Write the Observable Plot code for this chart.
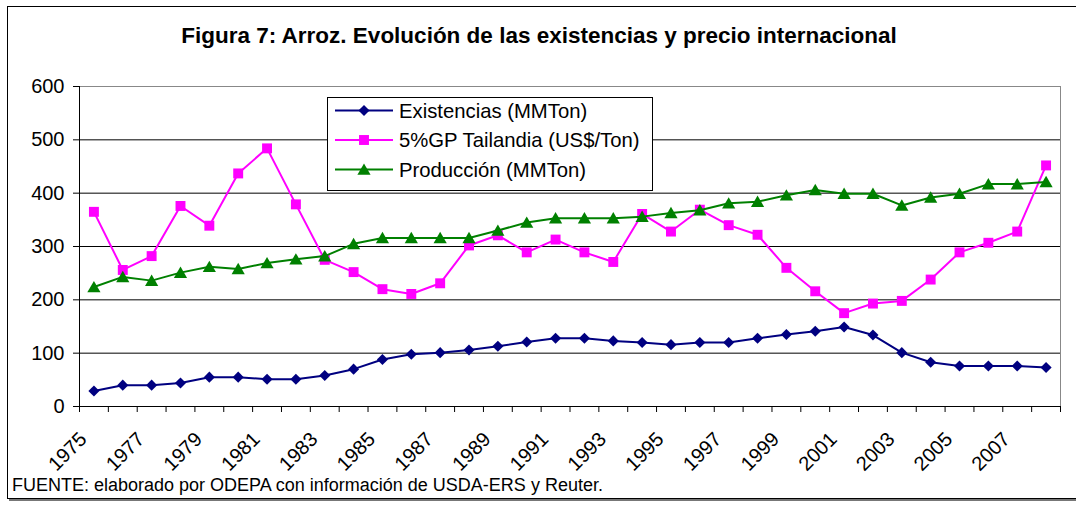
<!DOCTYPE html>
<html>
<head>
<meta charset="utf-8">
<script src="https://cdn.jsdelivr.net/npm/d3@7"></script>
<script src="https://cdn.jsdelivr.net/npm/@observablehq/plot@0.6"></script>
<style>
  html, body { margin: 0; padding: 0; background: #fff; }
  #wrap { position: relative; width: 1076px; height: 505px; overflow: hidden; font-family: Arial, "Liberation Sans", sans-serif; }
  #frame { position: absolute; left: 7px; top: 6px; width: 1080px; height: 493px; border: 1px solid #000; box-shadow: 2px 2px 0 #777; box-sizing: border-box; }
  #title { position: absolute; left: 0; top: 25px; width: 1078px; text-align: center; font-weight: bold; font-size: 22.5px; line-height: 22px; color: #000; }
  #caption { position: absolute; left: 12px; top: 477px; font-size: 18px; line-height: 17px; color: #000; white-space: nowrap; }
  #chart { position: absolute; left: 0; top: 0; }
  #legend { position: absolute; left: 327px; top: 97px; }
</style>
</head>
<body>
<div id="wrap">
  <div id="frame"></div>
  <div id="title"></div>
  <div id="chart"></div>
  <div id="legend"></div>
  <div id="caption"></div>
</div>
<script>
const titleText = "Figura 7: Arroz. Evolución de las existencias y precio internacional";
const captionText = "FUENTE: elaborado por ODEPA con información de USDA-ERS y Reuter.";

const years = [1975,1976,1977,1978,1979,1980,1981,1982,1983,1984,1985,1986,1987,1988,1989,1990,1991,1992,1993,1994,1995,1996,1997,1998,1999,2000,2001,2002,2003,2004,2005,2006,2007,2008];
const existencias = [29,40,40,44,55,55,51,51,58,70,88,98,101,106,113,121,128,128,123,120,116,120,120,128,135,141,149,134,101,83,76,76,76,73];
const precio = [365,256,282,376,339,437,484,379,275,252,220,211,231,302,321,289,313,289,271,361,328,369,340,322,260,216,175,193,198,238,289,307,328,452];
const produccion = [224,243,236,251,262,258,269,276,282,305,316,316,316,316,330,345,353,353,353,356,363,368,381,384,396,406,399,399,377,392,399,417,417,421];
const xTickLabels = [1975,1977,1979,1981,1983,1985,1987,1989,1991,1993,1995,1997,1999,2001,2003,2005,2007];
const yTicks = [0,100,200,300,400,500,600];
const seriesNames = ["Existencias (MMTon)", "5%GP Tailandia (US$/Ton)", "Producción (MMTon)"];
const seriesColors = ["#000080", "#FF00FF", "#008000"];
const seriesSymbols = ["diamond2", "square", "triangle"];
const seriesR = [5, 5.6, 4.9];

document.getElementById("title").textContent = titleText;
document.getElementById("caption").textContent = captionText;

const seriesValues = [existencias, precio, produccion];
const data = seriesValues.map((vals, i) => years.map((yr, j) => ({year: yr, value: vals[j], s: i})));

const boundaries = years.map(y => y - 0.5).concat([years[years.length - 1] + 0.5]);
const gridVals = yTicks.slice(1, -1);
const font = "Arial, 'Liberation Sans', sans-serif";

const marks = [
  Plot.ruleY(gridVals, {stroke: "#000", strokeWidth: 1}),
  Plot.ruleY([yTicks[yTicks.length - 1]], {stroke: "#888", strokeWidth: 1}),
  Plot.ruleX([boundaries[boundaries.length - 1]], {stroke: "#888", strokeWidth: 1}),
  Plot.axisY({ticks: yTicks, tickSize: 6, tickPadding: 9, fontSize: 20, label: null, tickFormat: d => String(d)}),
  Plot.axisX({ticks: boundaries, tickSize: 6, tickFormat: () => "", label: null}),
  Plot.ruleX([boundaries[0]], {stroke: "#000", strokeWidth: 1}),
  Plot.ruleY([yTicks[0]], {stroke: "#000", strokeWidth: 1}),
];
data.forEach((d, i) => {
  marks.push(Plot.line(d, {x: "year", y: "value", stroke: seriesColors[i], strokeWidth: 2}));
  marks.push(Plot.dot(d, {x: "year", y: "value", symbol: () => seriesSymbols[i], r: seriesR[i], fill: seriesColors[i], stroke: "none", dy: i === 2 ? 1.5 : 0}));
});
marks.push(Plot.text(xTickLabels, {x: d => d, frameAnchor: "bottom", rotate: -45, textAnchor: "end", text: d => String(d), dx: -6, dy: 34, fontSize: 20, fill: "#000"}));

const chart = Plot.plot({
  width: 1076,
  height: 505,
  marginLeft: 79,
  marginRight: 16,
  marginTop: 86,
  marginBottom: 99,
  x: {domain: [boundaries[0], boundaries[boundaries.length - 1]]},
  y: {domain: [yTicks[0], yTicks[yTicks.length - 1]]},
  symbol: {type: "identity"},
  style: {fontFamily: font, fontSize: "20px", background: "transparent", color: "#000", overflow: "visible"},
  marks
});
document.getElementById("chart").appendChild(chart);

// legend
const lw = 326, lh = 94;
const lsvg = d3.select("#legend").append("svg").attr("width", lw).attr("height", lh);
lsvg.append("rect").attr("x", 0.5).attr("y", 0.5).attr("width", lw - 1).attr("height", lh - 1).attr("fill", "#fff").attr("stroke", "#000");
const rowY = [13.5, 43, 72.5];
const symMap = {diamond2: d3.symbolDiamond2, square: d3.symbolSquare, triangle: d3.symbolTriangle};
seriesNames.forEach((name, i) => {
  const g = lsvg.append("g").attr("transform", `translate(0,${rowY[i]})`);
  g.append("line").attr("x1", 8).attr("x2", 66).attr("y1", 0).attr("y2", 0).attr("stroke", seriesColors[i]).attr("stroke-width", 2);
  g.append("path").attr("transform", `translate(37,${i === 2 ? 1.5 : 0})`)
    .attr("d", d3.symbol(symMap[seriesSymbols[i]], Math.PI * seriesR[i] * seriesR[i])())
    .attr("fill", seriesColors[i]);
  g.append("text").attr("x", 72).attr("y", 0).attr("dy", "0.35em").attr("font-family", font).attr("font-size", 20.3).attr("fill", "#000").text(name);
});
</script>
</body>
</html>
